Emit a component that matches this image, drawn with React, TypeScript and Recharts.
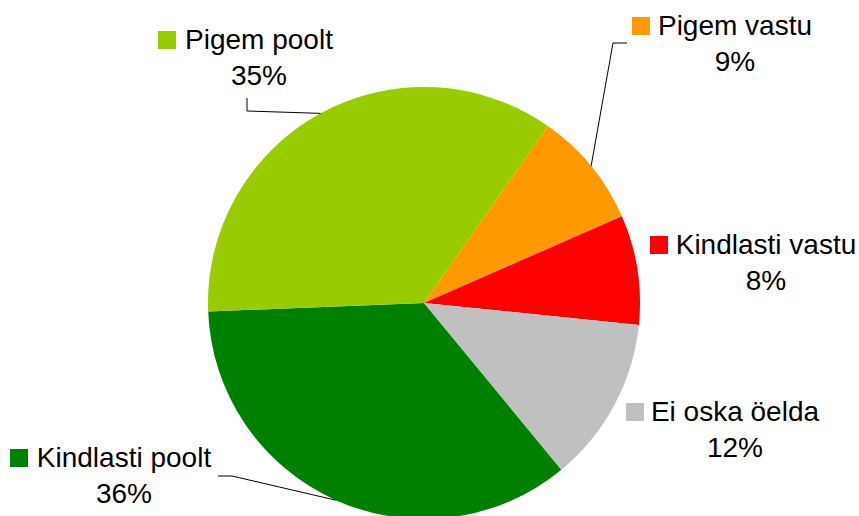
import { PieChart, Pie, Cell } from 'recharts';

const categories = ['Kindlasti poolt', 'Pigem poolt', 'Pigem vastu', 'Kindlasti vastu', 'Ei oska öelda'];
const shares = [35.35, 35.35, 8.7, 8.2, 12.4];
const pctLabels = ['36%', '35%', '9%', '8%', '12%'];
const colors = ['#008000', '#99CC00', '#FF9900', '#FF0000', '#C0C0C0'];

// label placement (Excel-style dragged labels), by slice index
const labelLayout = [
  { x: 124, y: 467, keyX: 10, leader: [[218, 476], [232, 476]] },
  { x: 259, y: 49, keyX: 158, leader: [[247, 98], [247, 111]] },
  { x: 735, y: 35, keyX: 632, leader: [[627, 43], [613, 43]] },
  { x: 766, y: 254, keyX: 650, leader: null },
  { x: 735, y: 421, keyX: 626, leader: null },
];

const RAD = Math.PI / 180;
const FONT = '"Liberation Sans", Arial, sans-serif';

type LabelProps = {
  cx: number;
  cy: number;
  midAngle: number;
  outerRadius: number;
  index: number;
};

function SliceLabel({ cx, cy, midAngle, outerRadius, index }: LabelProps) {
  const l = labelLayout[index];
  const ex = cx + outerRadius * Math.cos(-midAngle * RAD);
  const ey = cy + outerRadius * Math.sin(-midAngle * RAD);
  const pts = l.leader ? [...l.leader, [ex, ey]].map((p) => p.join(',')).join(' ') : null;
  return (
    <g>
      {pts && <polyline points={pts} fill="none" stroke="#000" strokeWidth={1} />}
      <rect x={l.keyX} y={l.y - 18} width={18} height={18} fill={colors[index]} />
      <text x={l.x} y={l.y} textAnchor="middle" fontFamily={FONT} fontSize={28} fill="#000">
        {categories[index]}
      </text>
      <text x={l.x} y={l.y + 36} textAnchor="middle" fontFamily={FONT} fontSize={28} fill="#000">
        {pctLabels[index]}
      </text>
    </g>
  );
}

export default function App() {
  const data = categories.map((name, i) => ({ name, value: shares[i] }));
  return (
    <div style={{ position: 'absolute', left: 0, top: 0, background: '#fff' }}>
      <PieChart width={859} height={516} margin={{ top: 0, right: 0, bottom: 0, left: 0 }}>
        <Pie
          data={data}
          dataKey="value"
          cx={424}
          cy={303}
          outerRadius={216}
          startAngle={-50.5}
          endAngle={-410.5}
          stroke="none"
          labelLine={false}
          label={(p: any) => <SliceLabel {...p} />}
          isAnimationActive={false}
        >
          {data.map((d, i) => (
            <Cell key={d.name} fill={colors[i]} />
          ))}
        </Pie>
      </PieChart>
    </div>
  );
}
